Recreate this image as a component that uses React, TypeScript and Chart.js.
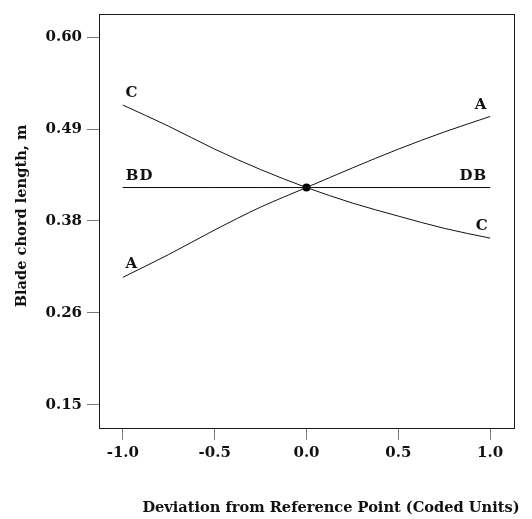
import React, { useEffect, useRef } from "react";
import { Chart, registerables } from "chart.js";

Chart.register(...registerables);

// Coded factor levels along the x axis
const X_LEVELS = [-1, -0.75, -0.5, -0.25, 0, 0.25, 0.5, 0.75, 1];

// Predicted blade chord length (m) when one factor moves and the others stay at the reference point
const FACTOR_A = [0.306, 0.334, 0.364, 0.392, 0.416, 0.44, 0.463, 0.484, 0.503];
const FACTOR_B = [0.416, 0.416, 0.416, 0.416, 0.416, 0.416, 0.416, 0.416, 0.416];
const FACTOR_C = [0.517, 0.491, 0.463, 0.438, 0.416, 0.397, 0.381, 0.366, 0.354];
const FACTOR_D = [0.416, 0.416, 0.416, 0.416, 0.416, 0.416, 0.416, 0.416, 0.416];

const REFERENCE_X = [0];
const REFERENCE_Y = [0.416];

const X_TICKS = [-1, -0.5, 0, 0.5, 1];
const X_TICK_LABELS = ["-1.0", "-0.5", "0.0", "0.5", "1.0"];
const Y_TICKS = [0.15, 0.2625, 0.375, 0.4875, 0.6];
const Y_TICK_LABELS = ["0.15", "0.26", "0.38", "0.49", "0.60"];

const X_TITLE = "Deviation from Reference Point (Coded Units)";
const Y_TITLE = "Blade chord length, m";

const FONT_FAMILY = "'DejaVu Serif', serif";
const TEXT_COLOR = "#111";

const toPoints = (ys: number[]) => ys.map((y, i) => ({ x: X_LEVELS[i], y }));

// Letters placed at the ends of each trace
type EndLabel = { text: string; series: number[]; end: "start" | "end"; dx: number; dy: number; align: CanvasTextAlign };
const END_LABELS: EndLabel[] = [
  { text: "C", series: FACTOR_C, end: "start", dx: 9, dy: -12, align: "center" },
  { text: "BD", series: FACTOR_B, end: "start", dx: 3, dy: -11, align: "left" },
  { text: "A", series: FACTOR_A, end: "start", dx: 9, dy: -13, align: "center" },
  { text: "A", series: FACTOR_A, end: "end", dx: -9, dy: -11, align: "center" },
  { text: "DB", series: FACTOR_D, end: "end", dx: -3, dy: -11, align: "right" },
  { text: "C", series: FACTOR_C, end: "end", dx: -8, dy: -12, align: "center" },
];

const annotationPlugin = {
  id: "perturbationDecor",
  afterDatasetsDraw(chart: any) {
    const { ctx, chartArea, scales } = chart;
    const { left, top, right, bottom } = chartArea;
    ctx.save();

    // plot frame
    ctx.strokeStyle = "#1a1a1a";
    ctx.lineWidth = 1;
    ctx.strokeRect(Math.round(left) + 0.5, Math.round(top) + 0.5, Math.round(right - left), Math.round(bottom - top));

    // factor letters
    ctx.fillStyle = TEXT_COLOR;
    ctx.font = `bold 15px ${FONT_FAMILY}`;
    ctx.textBaseline = "middle";
    try {
      (ctx as any).letterSpacing = "1px";
    } catch (e) {}
    for (const lab of END_LABELS) {
      const idx = lab.end === "start" ? 0 : lab.series.length - 1;
      const px = scales.x.getPixelForValue(X_LEVELS[idx]);
      const py = scales.y.getPixelForValue(lab.series[idx]);
      ctx.textAlign = lab.align;
      ctx.fillText(lab.text, px + lab.dx, py + lab.dy);
    }
    try {
      (ctx as any).letterSpacing = "0px";
    } catch (e) {}

    // axis titles
    ctx.font = `bold 14.6px ${FONT_FAMILY}`;
    ctx.textAlign = "center";
    ctx.fillText(X_TITLE, 331, 508);
    ctx.translate(22, 216);
    ctx.rotate(-Math.PI / 2);
    ctx.fillText(Y_TITLE, 0, 0);
    ctx.restore();
  },
};

export default function App() {
  const canvasRef = useRef<HTMLCanvasElement | null>(null);

  useEffect(() => {
    if (!canvasRef.current) return;
    const lineStyle = {
      borderColor: "#111",
      borderWidth: 1,
      pointRadius: 0,
      fill: false,
      cubicInterpolationMode: "monotone" as const,
    };
    const chart = new Chart(canvasRef.current, {
      type: "line",
      data: {
        datasets: [
          { label: "A", data: toPoints(FACTOR_A), ...lineStyle },
          { label: "B", data: toPoints(FACTOR_B), ...lineStyle },
          { label: "C", data: toPoints(FACTOR_C), ...lineStyle },
          { label: "D", data: toPoints(FACTOR_D), ...lineStyle },
          {
            label: "Reference",
            data: REFERENCE_X.map((x, i) => ({ x, y: REFERENCE_Y[i] })),
            showLine: false,
            pointRadius: 4,
            pointBackgroundColor: "#000",
            pointBorderColor: "#000",
            pointBorderWidth: 0,
          },
        ],
      },
      options: {
        responsive: false,
        animation: false,
        events: [],
        layout: { padding: { top: 12, right: 18, left: 0, bottom: 0 } },
        plugins: { legend: { display: false }, tooltip: { enabled: false } },
        scales: {
          x: {
            type: "linear",
            min: -1.13,
            max: 1.13,
            afterFit: (s: any) => {
              s.height = 91;
            },
            afterBuildTicks: (s: any) => {
              s.ticks = X_TICKS.map((v) => ({ value: v }));
            },
            ticks: {
              callback: (_v: any, i: number) => X_TICK_LABELS[i],
              font: { family: FONT_FAMILY, size: 15, weight: "bold" },
              color: TEXT_COLOR,
              padding: 4,
              maxRotation: 0,
            },
            grid: { drawOnChartArea: false, tickLength: 12, color: "#7a7a7a", lineWidth: 1 },
            border: { display: false },
          },
          y: {
            type: "linear",
            min: 0.1215,
            max: 0.6285,
            afterFit: (s: any) => {
              s.width = 99;
            },
            afterBuildTicks: (s: any) => {
              s.ticks = Y_TICKS.map((v) => ({ value: v }));
            },
            ticks: {
              callback: (_v: any, i: number) => Y_TICK_LABELS[i],
              font: { family: FONT_FAMILY, size: 15, weight: "bold" },
              color: TEXT_COLOR,
              padding: 5,
            },
            grid: { drawOnChartArea: false, tickLength: 12, color: "#7a7a7a", lineWidth: 1 },
            border: { display: false },
          },
        },
      },
      plugins: [annotationPlugin],
    });
    return () => chart.destroy();
  }, []);

  return (
    <div style={{ position: "fixed", left: 0, top: 0, width: 532, height: 519, background: "#fff" }}>
      <canvas ref={canvasRef} width={532} height={519} style={{ display: "block", width: 532, height: 519 }} />
    </div>
  );
}
